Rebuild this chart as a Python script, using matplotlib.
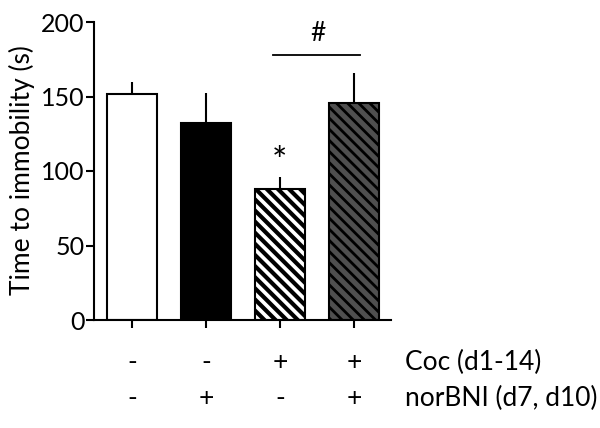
import matplotlib
matplotlib.use("Agg")
import matplotlib.pyplot as plt
from matplotlib.transforms import blended_transform_factory

plt.rcParams['font.family'] = ['Lato', 'DejaVu Sans']

groups = ["G1", "G2", "G3", "G4"]
means = [151.5, 132.5, 88, 145.5]
sems = [8.5, 20, 8, 20]
coc = ["-", "-", "+", "+"]
norbni = ["-", "+", "-", "+"]
row_labels = ["Coc (d1-14)", "norBNI (d7, d10)"]
yticks = [0, 50, 100, 150, 200]

faces = ["white", "black", "white", "#4f4f4f"]
hatches = [None, None, "\\\\\\", "\\\\\\"]
hatch_lw = [1.0, 1.0, 3.0, 2.0]

fig = plt.figure(figsize=(6, 4.28), dpi=100)
ax = fig.add_axes([94/600, 1-320/428, (391-94)/600, (320-22)/428])

x = list(range(len(groups)))
for i in x:
    with plt.rc_context({'hatch.linewidth': hatch_lw[i]}):
        ax.bar(i, means[i], width=0.68, color=faces[i], edgecolor="black",
               linewidth=1.5, hatch=hatches[i], zorder=2)
    ax.plot([i, i], [means[i], means[i] + sems[i]], color="black", lw=1.5,
            zorder=1, solid_capstyle="butt")

ax.set_xlim(-0.51, 3.5)
ax.set_ylim(0, 200)
ax.set_yticks(yticks)
ax.set_xticks(x)
ax.set_xticklabels([])
ax.spines['top'].set_visible(False)
ax.spines['right'].set_visible(False)
for s in ['left', 'bottom']:
    ax.spines[s].set_linewidth(1.5)
ax.tick_params(axis='both', width=1.5, length=6, labelsize=18, pad=1)

# significance
ax.plot([1.905, 3.08], [178, 178], color="black", lw=1.3, clip_on=False)
ax.text(2.51, 192, "#", ha="center", va="center", fontsize=19)
ax.text(2.0, 106, "*", ha="center", va="center", fontsize=26)

fig.text(22/600, 1-170/428, "Time to immobility (s)", rotation=90,
         ha="center", va="center", fontsize=19)

tr = blended_transform_factory(ax.transData, ax.transAxes)
for i in x:
    ax.text(i, -0.144, coc[i], ha="center", va="center", fontsize=19, transform=tr)
    ax.text(i, -0.262, norbni[i], ha="center", va="center", fontsize=19, transform=tr)
ax.text(3.69, -0.144, row_labels[0], ha="left", va="center", fontsize=19, transform=tr)
ax.text(3.69, -0.262, row_labels[1], ha="left", va="center", fontsize=19, transform=tr)

fig.savefig("out.png", dpi=100)
